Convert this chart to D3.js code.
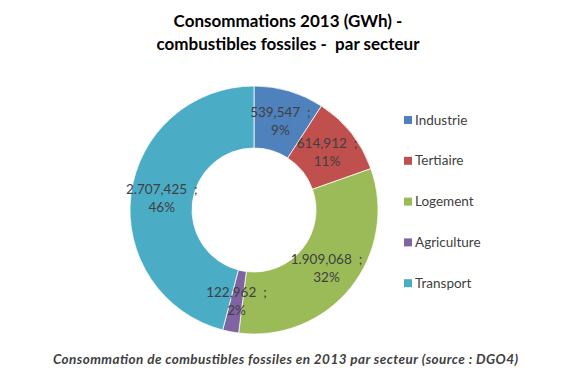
<!DOCTYPE html>
<html><head><meta charset="utf-8">
<script src="https://cdn.jsdelivr.net/npm/d3@7"></script>
<style>body{margin:0;background:#fff;} svg{display:block;}</style>
</head><body>
<script>
const categories = ["Industrie", "Tertiaire", "Logement", "Agriculture", "Transport"];
const values = [539547, 614912, 1909068, 122962, 2707425];
const percentLabels = [9, 11, 32, 2, 46];
const colors = ["#4F81BD", "#C0504D", "#9BBB59", "#8064A2", "#4BACC6"];
const titleLines = ["Consommations 2013 (GWh) -", "combustibles fossiles -  par secteur"];
const caption = "Consommation de combustibles fossiles en 2013 par secteur (source : DGO4)";

const W = 569, H = 379;
const svg = d3.select("body").append("svg").attr("width", W).attr("height", H);
const font = "Lato, 'Open Sans', sans-serif";

svg.selectAll("text.title").data(titleLines).join("text")
  .attr("x", 288).attr("y", (d, i) => 27 + i * 23)
  .attr("text-anchor", "middle").attr("font-family", font)
  .attr("font-weight", "bold").attr("font-size", 17).attr("fill", "#000")
  .attr("xml:space", "preserve").style("white-space", "pre")
  .text(d => d);

const cx = 254, cy = 210, R = 124, r0 = 62;
const data = categories.map((c, i) => ({cat: c, value: values[i], pct: percentLabels[i], color: colors[i]}));
const pie = d3.pie().value(d => d.value).sort(null);
const arcs = pie(data);
const arc = d3.arc().innerRadius(r0).outerRadius(R);
const labelArc = d3.arc().innerRadius((R + r0) / 2).outerRadius((R + r0) / 2);

const g = svg.append("g").attr("transform", `translate(${cx},${cy})`);
g.selectAll("path").data(arcs).join("path")
  .attr("d", arc).attr("fill", d => d.data.color)
  .attr("stroke", "#fff").attr("stroke-width", 0.75);

function fmt(v) {
  const m = Math.floor(v / 1e6), rest = v % 1e6;
  const k = Math.floor(rest / 1000), u = rest % 1000;
  const pad = n => String(n).padStart(3, "0");
  if (m > 0) return m + "." + pad(k) + "," + pad(u);
  return k + "," + pad(u);
}

const lbl = g.selectAll("g.lbl").data(arcs).join("g")
  .attr("transform", d => `translate(${labelArc.centroid(d)})`);
lbl.append("text").attr("text-anchor", "middle").attr("y", -4)
  .attr("font-family", font).attr("font-size", 13.5).attr("fill", "#404040")
  .attr("xml:space", "preserve").style("white-space", "pre")
  .text(d => fmt(d.data.value) + "  ;");
lbl.append("text").attr("text-anchor", "middle").attr("y", 14)
  .attr("font-family", font).attr("font-size", 13.5).attr("fill", "#404040")
  .text(d => d.data.pct + "%");

const leg = svg.selectAll("g.leg").data(data).join("g")
  .attr("transform", (d, i) => `translate(404,${124 + i * 40.8})`);
leg.append("rect").attr("x", 0).attr("y", -8).attr("width", 8).attr("height", 8)
  .attr("fill", d => d.color);
leg.append("text").attr("x", 11).attr("y", 0.5)
  .attr("font-family", font).attr("font-size", 13.5).attr("fill", "#404040")
  .text(d => d.cat);

svg.append("text").attr("x", 53).attr("y", 364)
  .attr("font-family", font).attr("font-size", 13.5).attr("font-weight", "bold")
  .attr("font-style", "italic").attr("fill", "#404040")
  .attr("textLength", 465).attr("lengthAdjust", "spacing").text(caption);
</script>
</body></html>
